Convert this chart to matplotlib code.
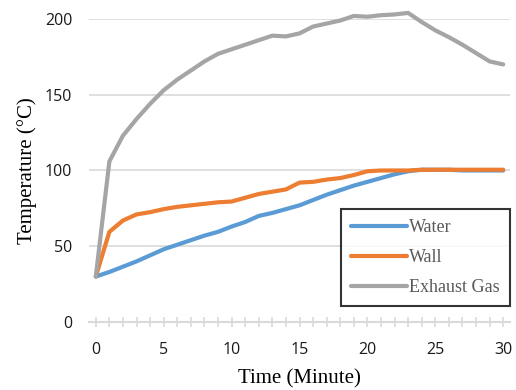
import matplotlib
matplotlib.use('Agg')
import matplotlib.pyplot as plt
from matplotlib.ticker import MultipleLocator

minutes = list(range(0, 31))
water = [30, 33, 36.5, 40, 44, 48, 51, 54, 57, 59.5, 63, 66, 70, 72, 74.5, 77,
         80.5, 84, 87, 90, 92.5, 95, 97.5, 99.5, 100.5, 100.5, 100.5, 100, 100, 100, 100]
wall = [30, 59.5, 67, 71, 72.5, 74.5, 76, 77, 78, 79, 79.5, 82, 84.5, 86, 87.5, 92,
        92.5, 94, 95, 97, 99.5, 100, 100, 100, 100.5, 100.5, 100.5, 100.5, 100.5, 100.5, 100.5]
exhaust = [30, 106, 123, 134, 144, 153, 160, 166, 172, 177, 180, 183, 186, 189, 188.5, 190.5,
           195, 197, 199, 202, 201.5, 202.5, 203, 204, 198, 192.5, 188, 183, 177.5, 172, 170]

series_names = ['Water', 'Wall', 'Exhaust Gas']
series_colors = ['#5B9BD5', '#ED7D31', '#A5A5A5']

fig = plt.figure(figsize=(5.16, 3.9), dpi=100)
ax = fig.add_axes([0.1725, 0.1744, 0.8159, 0.7769])

for vals, name, col in zip([water, wall, exhaust], series_names, series_colors):
    ax.plot(minutes, vals, color=col, linewidth=3.0, label=name,
            solid_capstyle='round', solid_joinstyle='round', clip_on=False)

ax.set_xlim(-0.5, 30.5)
ax.set_ylim(0, 200)
ax.set_yticks([0, 50, 100, 150, 200])
ax.xaxis.set_major_locator(MultipleLocator(5))
ax.xaxis.set_minor_locator(MultipleLocator(1))
ax.grid(axis='y', color='#D9D9D9', linewidth=1.2)
ax.set_axisbelow(True)

for s in ['top', 'right', 'left']:
    ax.spines[s].set_visible(False)
ax.spines['bottom'].set_color('#D9D9D9')
ax.spines['bottom'].set_linewidth(1.5)

ax.tick_params(axis='y', length=0, pad=12, labelsize=11.5, labelcolor='#1a1a1a')
ax.tick_params(axis='x', which='both', direction='inout', length=7, width=1.2,
               color='#D9D9D9', pad=11, labelsize=11.5, labelcolor='#1a1a1a')
for lab in ax.get_xticklabels() + ax.get_yticklabels():
    lab.set_family('Open Sans')

ax.set_xlabel('Time (Minute)', family='Liberation Serif', fontsize=15, labelpad=8)
ax.set_ylabel('Temperature (°C)', family='Liberation Serif', fontsize=15, labelpad=6)

leg = ax.legend(loc='lower right', bbox_to_anchor=(1.0, 0.053), frameon=True,
                fancybox=False, edgecolor='black', handlelength=3.1,
                prop={'family': 'Liberation Serif', 'size': 13}, labelspacing=0.72,
                borderpad=0.55, handletextpad=0.15, borderaxespad=0)
leg.get_frame().set_linewidth(1.5)
for t in leg.get_texts():
    t.set_color('#595959')

fig.savefig('out.png', dpi=100)
